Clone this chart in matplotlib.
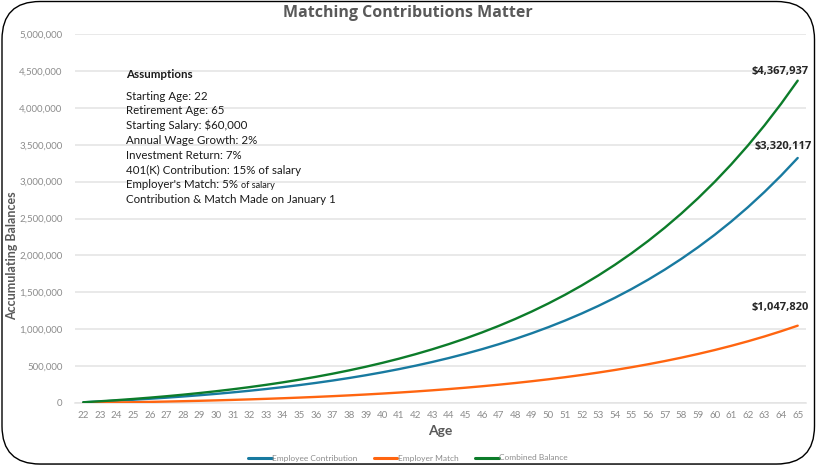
import matplotlib
matplotlib.use("Agg")
import matplotlib.pyplot as plt
from matplotlib.patches import FancyBboxPatch
from matplotlib.ticker import FuncFormatter, MultipleLocator

plt.rcParams['font.family'] = ['Lato', 'DejaVu Sans']

ages = list(range(22, 66))
employee = [9630, 20127, 31555, 43983, 57486, 72142, 88037, 105261, 123912, 144095,
            165920, 189508, 214987, 242494, 272175, 304188, 338701, 375894, 415960, 459107,
            505554, 555538, 609313, 667151, 729340, 796193, 868042, 945242, 1028174, 1117248,
            1212898, 1315593, 1425832, 1544151, 1671123, 1807360, 1953519, 2110302, 2278461, 2458799,
            2652178, 2859519, 3081807, 3320117]
employer = [0, 3274, 6843, 10729, 14954, 19545, 24528, 29932, 35789, 42130,
            48992, 56413, 64433, 73096, 82448, 92539, 103424, 115158, 127804, 141426,
            156096, 171888, 188883, 207166, 226831, 247976, 270705, 295134, 321382, 349579,
            379864, 412385, 447301, 484782, 525011, 568181, 614502, 664196, 717502, 774676,
            835991, 901740, 972235, 1047820]
combined = [9630, 23401, 38398, 54712, 72440, 91687, 112565, 135193, 159701, 186225,
            214913, 245921, 279420, 315589, 354622, 396727, 442124, 491052, 543764, 600533,
            661650, 727426, 798196, 874317, 956171, 1044169, 1138747, 1240375, 1349556, 1466827,
            1592762, 1727978, 1873133, 2028934, 2196134, 2375541, 2568021, 2774498, 2995963, 3233475,
            3488169, 3761258, 4054042, 4367937]
series_names = ["Employee Contribution", "Employer Match", "Combined Balance"]
end_labels = ["$3,320,117", "$1,047,820", "$4,367,937"]
assumptions = ["Starting Age: 22", "Retirement Age: 65", "Starting Salary: $60,000",
               "Annual Wage Growth: 2%", "Investment Return: 7%",
               "401(K) Contribution: 15% of salary"]
colors = ["#187AA0", "#FF6510", "#0C7C2A"]

W, H = 817, 467
fig = plt.figure(figsize=(W / 100, H / 100), dpi=100)
fig.patch.set_facecolor("white")

# background axes in pixel units for the rounded frame
bg = fig.add_axes([0, 0, 1, 1])
bg.set_xlim(0, W)
bg.set_ylim(H, 0)
bg.axis("off")
bg.set_zorder(0)
shadow = FancyBboxPatch((4, 4), W - 7, H - 6, boxstyle="round,pad=0,rounding_size=38",
                        facecolor="#c8c8c8", edgecolor="none")
frame = FancyBboxPatch((2, 1.5), W - 4.5, H - 4.5, boxstyle="round,pad=0,rounding_size=38",
                       facecolor="white", edgecolor="black", linewidth=1.0)
bg.add_patch(shadow)
bg.add_patch(frame)

left, right, top, bottom = 75, 806, 34, 403
ax = fig.add_axes([left / W, 1 - bottom / H, (right - left) / W, (bottom - top) / H])
ax.set_facecolor("none")
ax.set_zorder(2)

x = list(range(len(ages)))
for vals, c, name in zip([employee, employer, combined], colors, series_names):
    ax.plot(x, vals, color=c, lw=1.7, label=name, solid_capstyle="round", zorder=3)

ax.set_xlim(-0.5, len(ages) - 0.5)
ax.set_ylim(0, 5000000)
ax.yaxis.set_major_locator(MultipleLocator(500000))
ax.yaxis.set_major_formatter(FuncFormatter(lambda v, p: f"{int(v):,}"))
ax.set_xticks(x)
ax.set_xticklabels([str(a) for a in ages])
ax.tick_params(axis="both", length=0, labelsize=7, labelcolor="#8c8c8c")
ax.tick_params(axis="x", pad=6)
ax.tick_params(axis="y", pad=9)
ax.grid(axis="y", color="#e3e3e3", lw=1.1)
ax.set_axisbelow(True)
for s in ["top", "right", "left"]:
    ax.spines[s].set_visible(False)
ax.spines["bottom"].set_color("#e3e3e3")
ax.spines["bottom"].set_linewidth(1.1)

fig.text(440 / W, 1 - 431 / H, "Age", ha="center", va="center",
         fontsize=10, fontweight="bold", color="#595959")
fig.text(12 / W, 1 - 256 / H, "Accumulating Balances", rotation=90, ha="center", va="center",
         fontsize=9, fontweight="bold", color="#595959")
fig.text(408 / W, 1 - 13 / H, "Matching Contributions Matter", ha="center", va="center",
         fontsize=11.5, fontweight="bold", color="#595959", family="Open Sans")

# end labels
end_vals = [employee[-1], employer[-1], combined[-1]]
end_offsets = [(-14, 11), (-17, 18), (-18, 9)]
for lab, v, off in zip(end_labels, end_vals, end_offsets):
    ax.annotate(lab, xy=(x[-1], v), xytext=off, textcoords="offset pixels",
                ha="center", va="center", fontsize=8, fontweight="bold", color="#262626",
                family="Open Sans")

# assumptions text
tx = 126 / W
fs = 8.3
sp = 14.8
fig.text(tx, 1 - 75 / H, "Assumptions", ha="left", va="center", fontsize=fs,
         fontweight="bold", color="#1a1a1a")
for i, line in enumerate(assumptions):
    fig.text(tx, 1 - (96 + sp * i) / H, line, ha="left", va="center", fontsize=fs,
             color="#1a1a1a")
t = fig.text(tx, 1 - (96 + sp * 6) / H, "Employer's Match: 5% ", ha="left", va="center",
             fontsize=fs, color="#1a1a1a")
fig.canvas.draw()
bb = t.get_window_extent()
fig.text(bb.x1 / W, 1 - (97 + sp * 6) / H, "of salary", ha="left", va="center",
         fontsize=6.6, color="#1a1a1a")
fig.text(tx, 1 - (96 + sp * 7) / H, "Contribution & Match Made on January 1", ha="left",
         va="center", fontsize=fs, color="#1a1a1a")

leg = fig.legend(loc="center", bbox_to_anchor=(408 / W, 1 - 458 / H), ncol=3, frameon=False,
                 fontsize=6, handlelength=2.8, columnspacing=2.0, handletextpad=0.05,
                 labelcolor="#8c8c8c", borderpad=0)
for line in leg.get_lines():
    line.set_linewidth(2.2)

fig.savefig("out.png", dpi=100, facecolor="white")
